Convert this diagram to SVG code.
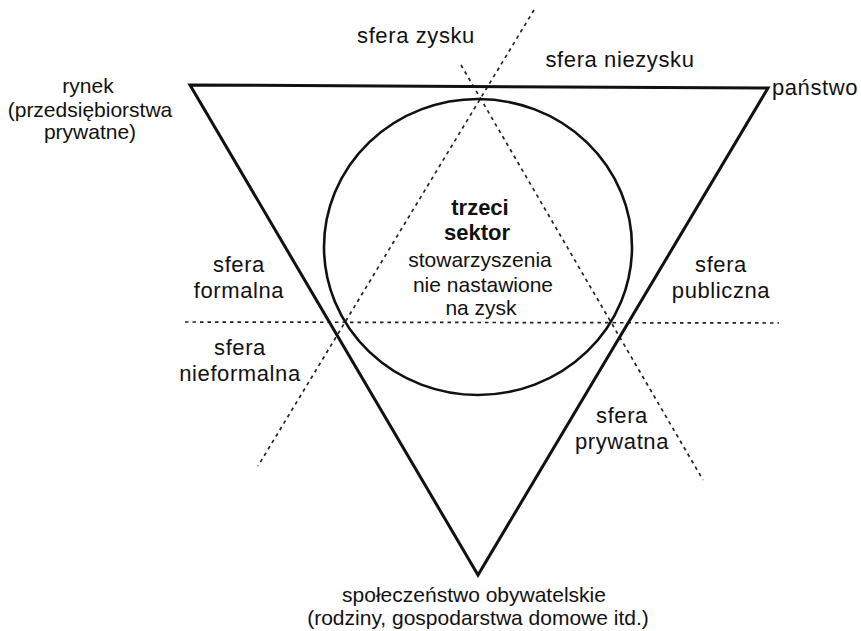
<svg xmlns="http://www.w3.org/2000/svg" width="861" height="631" viewBox="0 0 861 631">
<style>
text{font-family:"Liberation Sans",Arial,sans-serif;font-size:21px;fill:#111;text-anchor:middle}
.sf{font-size:22px;letter-spacing:0.6px}
.b{font-weight:bold;font-size:22px}
.solid{fill:none;stroke:#111;stroke-width:3;stroke-linejoin:miter}
.dot{fill:none;stroke:#222;stroke-width:1.7;stroke-dasharray:3.5 4}
</style>
<rect width="861" height="631" fill="#fff"/>
<g id="connectors">
<line class="dot" x1="534" y1="10" x2="258" y2="466"/>
<line class="dot" x1="461" y1="65" x2="703" y2="480"/>
<line class="dot" x1="185" y1="322" x2="779" y2="323"/>
</g>
<g id="triangle">
<path class="solid" d="M190 85 L768 88 L478 575 Z"/>
</g>
<g id="third-sector">
<ellipse cx="478" cy="247" rx="154" ry="148" fill="none" stroke="#111" stroke-width="2.6"/>
<text class="b" x="480" y="215">trzeci</text>
<text class="b" x="477" y="240">sektor</text>
<text x="480" y="267">stowarzyszenia</text>
<text x="483" y="292">nie nastawione</text>
<text x="481" y="315">na zysk</text>
</g>
<g id="rynek">
<text x="88" y="93">rynek</text>
<text x="90" y="117">(przedsiębiorstwa</text>
<text x="90" y="139">prywatne)</text>
</g>
<g id="panstwo">
<text x="815" y="95" class="sf">państwo</text>
</g>
<g id="spoleczenstwo">
<text x="474" y="602">społeczeństwo obywatelskie</text>
<text x="478" y="625">(rodziny, gospodarstwa domowe itd.)</text>
</g>
<g id="sfera-zysku"><text class="sf" x="416" y="43">sfera zysku</text></g>
<g id="sfera-niezysku"><text class="sf" x="620" y="67">sfera niezysku</text></g>
<g id="sfera-formalna"><text class="sf" x="239" y="272">sfera</text><text class="sf" x="239" y="298">formalna</text></g>
<g id="sfera-nieformalna"><text class="sf" x="240" y="355">sfera</text><text class="sf" x="240" y="381">nieformalna</text></g>
<g id="sfera-publiczna"><text class="sf" x="721" y="272">sfera</text><text class="sf" x="721" y="298">publiczna</text></g>
<g id="sfera-prywatna"><text class="sf" x="622" y="423">sfera</text><text class="sf" x="622" y="449">prywatna</text></g>
</svg>
